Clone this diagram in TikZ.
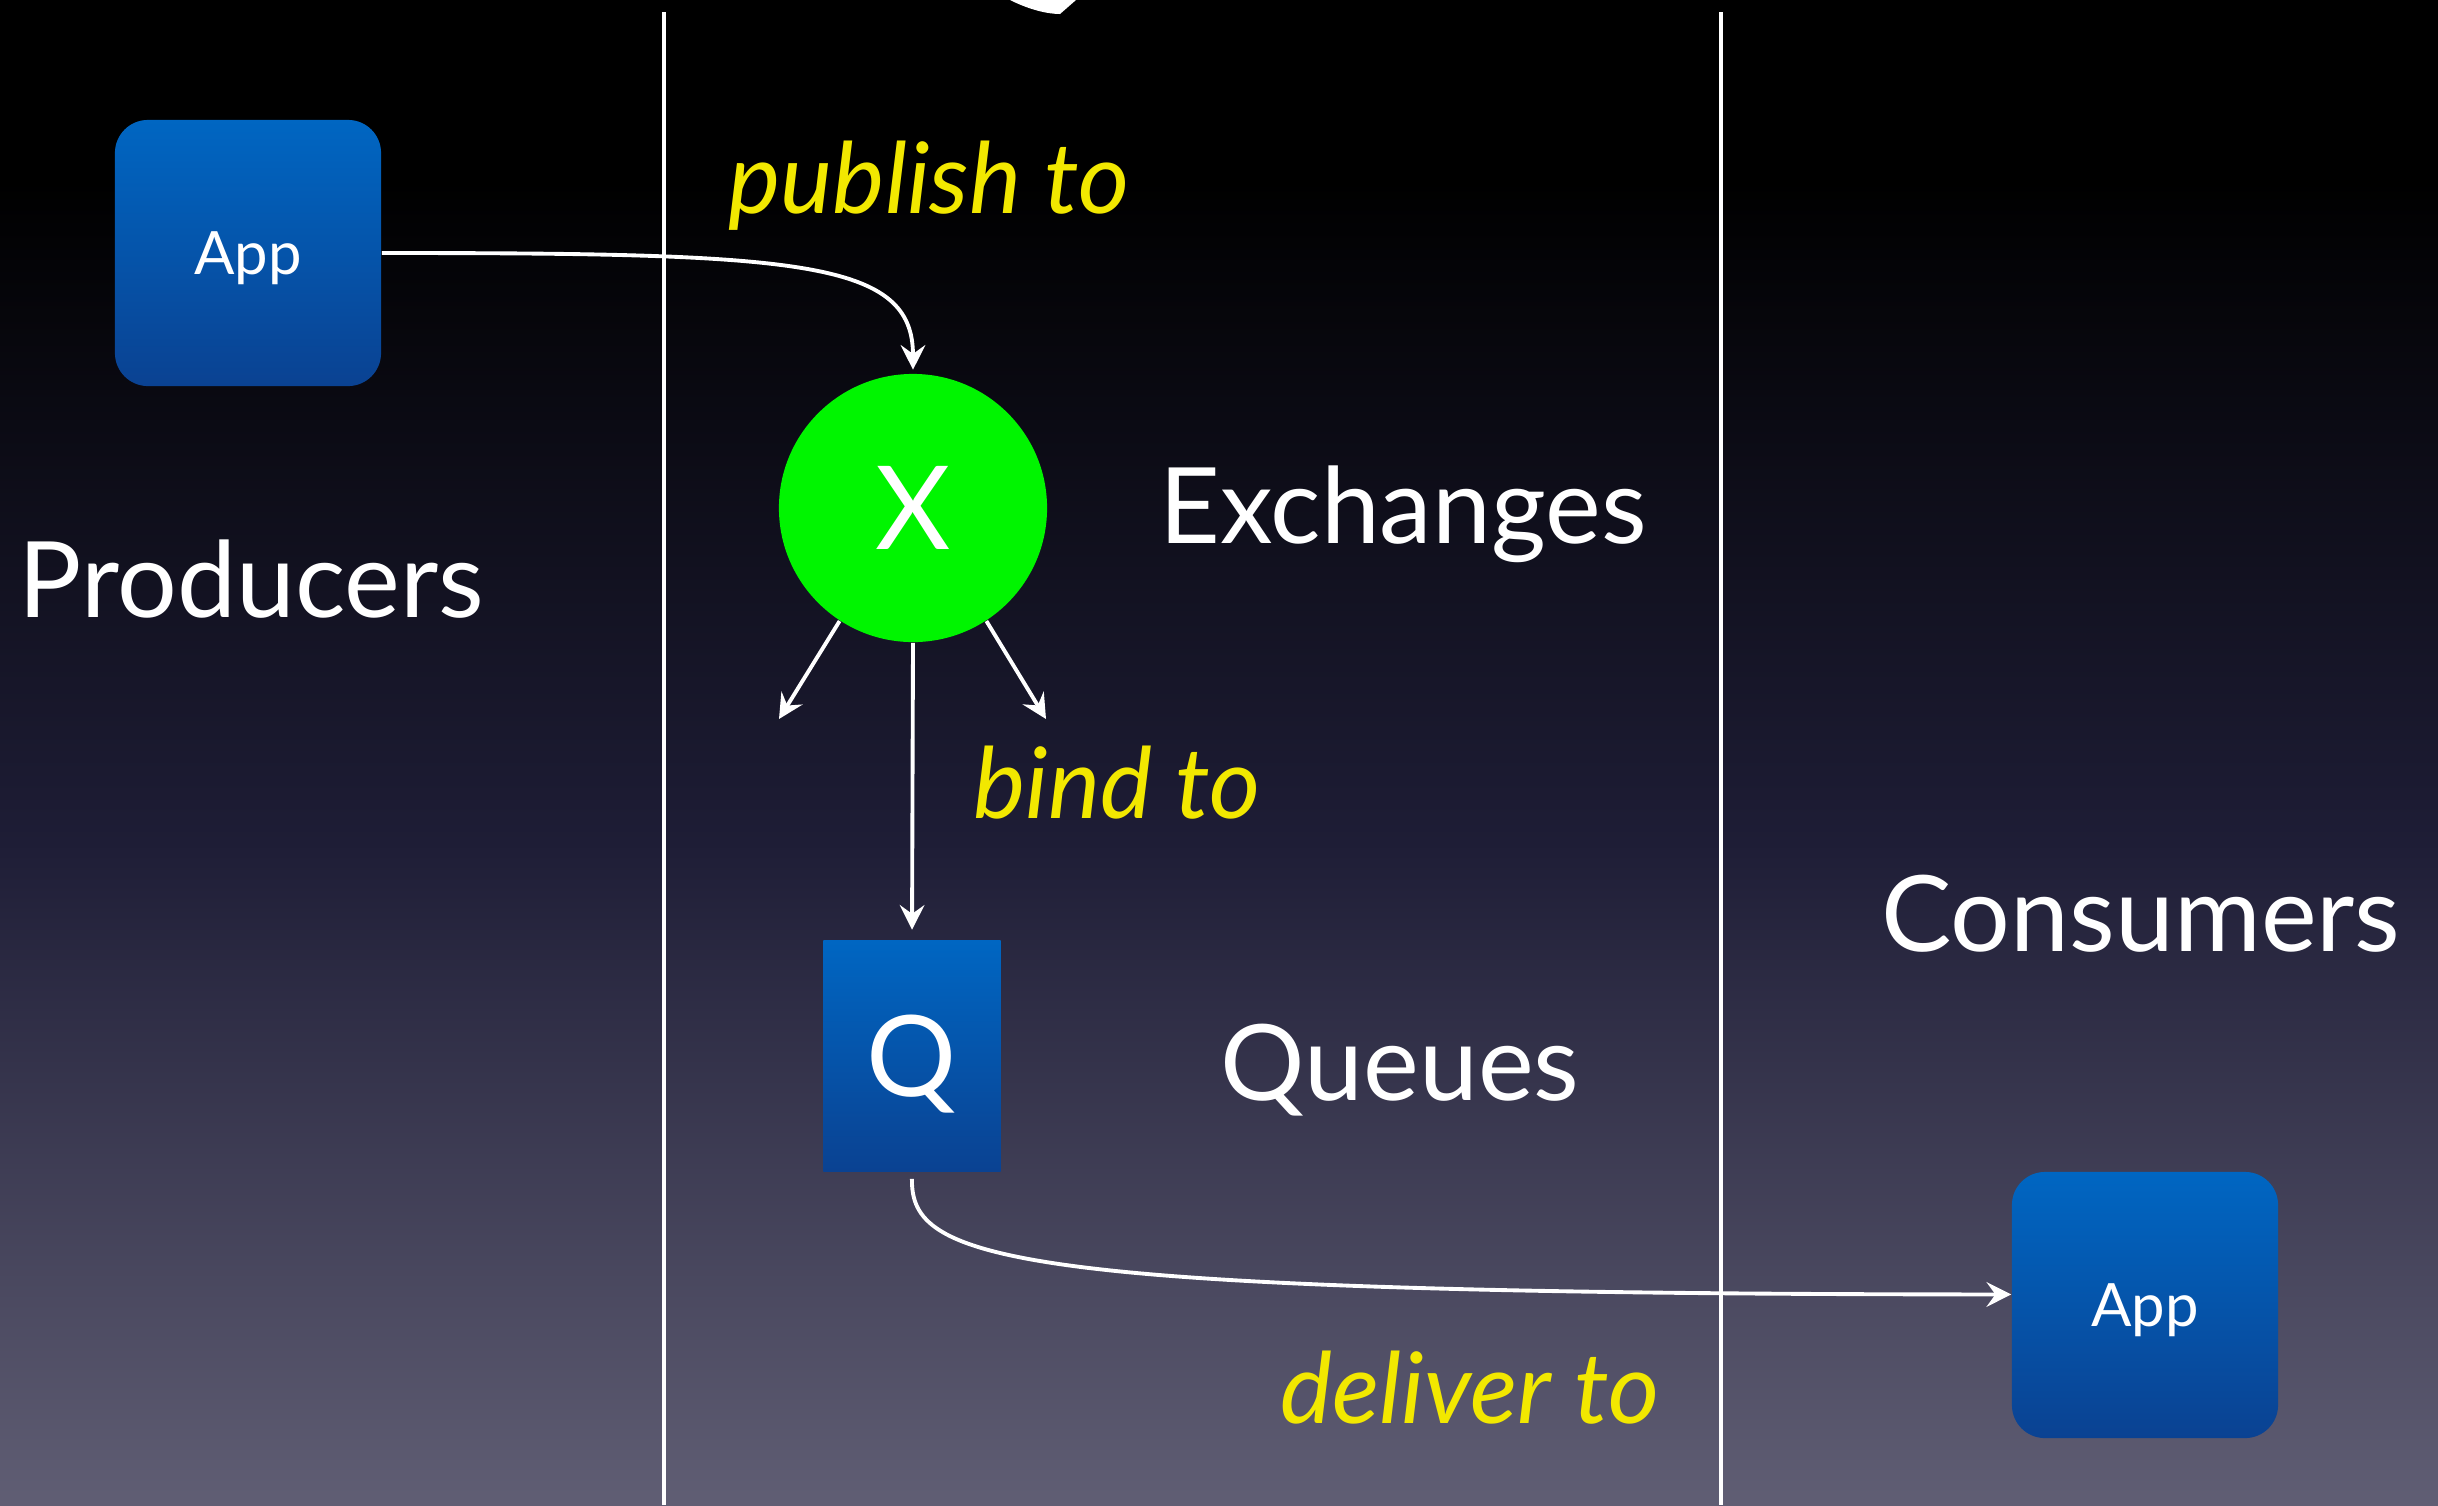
\documentclass[tikz,border=0pt]{standalone}
\usepackage{fontspec}
\setmainfont{Lato}
\usetikzlibrary{arrows.meta}
\definecolor{appblue}{RGB}{0,102,194}
\definecolor{appdark}{RGB}{10,66,146}
\definecolor{xgreen}{RGB}{0,245,0}
\definecolor{tagyellow}{RGB}{242,232,0}
\definecolor{bgmid}{RGB}{30,29,54}
\definecolor{bgbot}{RGB}{96,94,116}
\newcommand{\lblsize}{\fontsize{30}{36}\selectfont}
\newcommand{\tagsize}{\fontsize{28}{34}\selectfont}

\begin{document}
\begin{tikzpicture}[x=0.01cm,y=-0.01cm,
  app/.style={rounded corners=0.33cm,minimum width=2.66cm,minimum height=2.66cm,
    top color=appblue,bottom color=appdark,text=white,font=\fontsize{17}{20}\selectfont,
    text height=12.2pt,text depth=0pt},
  queue/.style={minimum width=1.77cm,minimum height=2.30cm,top color=appblue,
    bottom color=appdark,text=white,font=\fontsize{32}{38}\selectfont,
    text height=23pt,text depth=0pt},
  exch/.style={circle,fill=xgreen,minimum size=2.68cm,inner sep=0pt,text=white,
    font=\fontsize{33}{38}\selectfont},
  lbl/.style={text=white,font=\lblsize,inner sep=0pt},
  tag/.style={text=tagyellow,font=\tagsize\itshape,inner sep=0pt},
  flow/.style={draw=white,line width=1.1pt,-{Stealth[length=7pt,width=7pt,inset=2.5pt]}}]
  % background
  \useasboundingbox (0,0) rectangle (2438,1505);
  \fill[black] (0,0) rectangle (2438,180);
  \shade[top color=black,bottom color=bgbot,middle color=bgmid] (0,180) rectangle (2438,1505);
  \fill[white] (1010,0) .. controls (1030,10) and (1048,14) .. (1060,14) -- (1076,0) -- cycle;
  \draw[white,line width=0.9pt] ( 664,  12) -- ( 664,1505);
  \draw[white,line width=0.9pt] (1721,  12) -- (1721,1505);

  \node[app]   (prod) at ( 248, 253) {App};
  \node[app]   (cons) at (2145,1305) {App};
  \node[exch]  (ex)   at ( 913, 508) {X};
  \node[queue] (q)    at ( 912,1056) {Q};
  \coordinate  (bl)   at ( 779, 719);
  \coordinate  (br)   at (1046, 719);

  \node[lbl,anchor=base west]   (producers) at (  18, 617) {Producers};
  \node[lbl,anchor=base]        (exchanges) at (1403, 543) {Exchanges};
  \node[lbl,anchor=base]        (queues)    at (1400,1100) {Queues};
  \node[lbl,anchor=base east]   (consumers) at (2401, 951) {Consumers};
  \node[tag,anchor=base west]   (publish)   at ( 728, 213) {publish to};
  \node[tag,anchor=base west]   (bind)      at ( 973, 818) {bind to};
  \node[tag,anchor=base east]   (deliver)   at (1660,1423) {deliver to};

  \draw[flow,shorten >=1pt] (prod.east) .. controls (800,253) and (913,260) .. (ex.north);
  \draw[flow] (ex.237) -- (bl);
  \draw[flow] (ex.-57) -- (br);
  \draw[flow,shorten >=3pt] (ex.south) -- (q.north);
  \draw[flow,shorten <=2pt] (q.south) .. controls (911,1260) and (1000,1294) .. ([yshift=3pt]cons.west);
\end{tikzpicture}
\end{document}
